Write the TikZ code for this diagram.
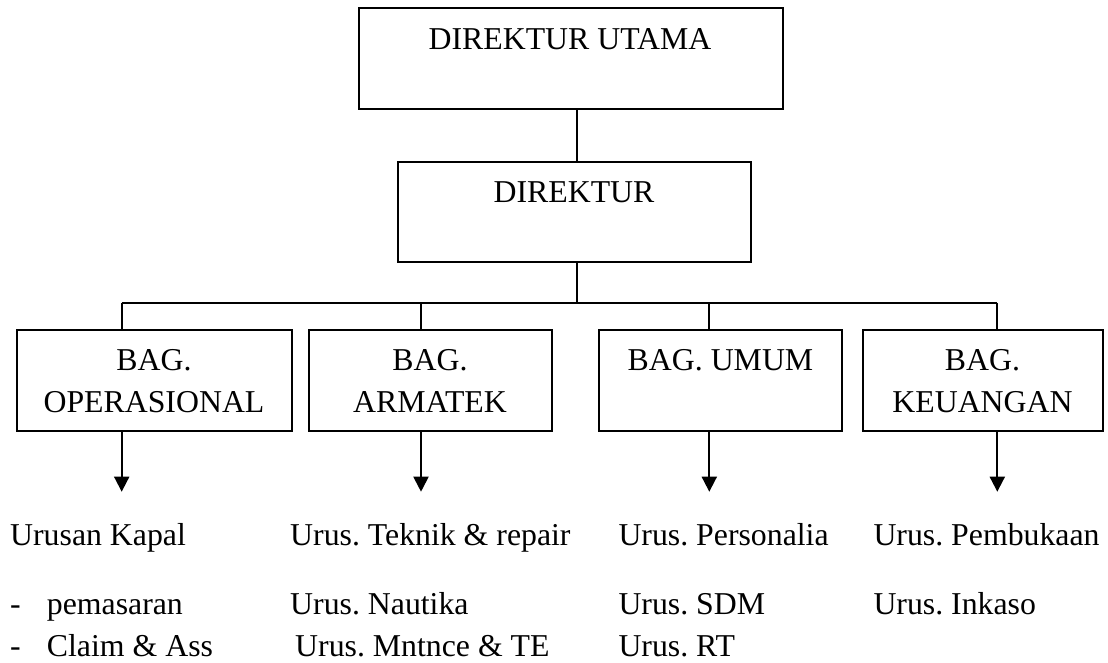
\documentclass[tikz,border=0pt]{standalone}
\usepackage{fontspec}
\setmainfont{Liberation Serif}
\usetikzlibrary{arrows.meta}
\frenchspacing
\begin{document}
\begin{tikzpicture}[x=1pt,y=-1pt,
  box/.style={draw,line width=1.9pt,inner sep=0pt},
  lbl/.style={inner sep=0pt,anchor=base,font=\fontsize{31.8}{36}\selectfont},
  item/.style={inner sep=0pt,anchor=base west,font=\fontsize{31.8}{36}\selectfont},
  conn/.style={line width=1.9pt},
  arr/.style={line width=1.9pt,-{Triangle[width=15pt,length=15pt]}}]
\useasboundingbox (0,0) rectangle (1108,662);
% boxes
\node[box,minimum width=424pt,minimum height=101pt] (top) at (571,58.5) {};
\node[box,minimum width=353pt,minimum height=100pt] (dir) at (574.5,212) {};
\node[box,minimum width=275pt,minimum height=100.4pt] (b1) at (154.2,380.5) {};
\node[box,minimum width=242.4pt,minimum height=100.4pt] (b2) at (430.5,380.5) {};
\node[box,minimum width=243pt,minimum height=100.4pt] (b3) at (720.8,380.5) {};
\node[box,minimum width=240pt,minimum height=100.4pt] (b4) at (982.7,380.5) {};
% box texts
\node[lbl] (tTop) at (570,49) {DIREKTUR UTAMA};
\node[lbl] (tDir) at (574,202) {DIREKTUR};
\node[lbl] (t1a) at (154,370) {BAG.};
\node[lbl] (t1b) at (154,412.7) {OPERASIONAL};
\node[lbl] (t2a) at (430,370) {BAG.};
\node[lbl] (t2b) at (430,412.7) {ARMATEK};
\node[lbl] (t3a) at (720.5,370) {BAG. UMUM};
\node[lbl] (t4a) at (982.5,370) {BAG.};
\node[lbl] (t4b) at (982.5,412.7) {KEUANGAN};
% connectors
\coordinate (bar0) at (576.7,302.7);
\coordinate (bar1) at (121.7,302.7);
\coordinate (bar2) at (421,302.7);
\coordinate (bar3) at (709.3,302.7);
\coordinate (bar4) at (997.3,302.7);
\draw[conn] (top.south -| bar0) -- (dir.north -| bar0);
\draw[conn] (dir.south -| bar0) -- (bar0);
\draw[conn] (bar1) -- (bar4);
\draw[conn] (bar1) -- (b1.north -| bar1);
\draw[conn] (bar2) -- (b2.north -| bar2);
\draw[conn] (bar3) -- (b3.north -| bar3);
\draw[conn] (bar4) -- (b4.north -| bar4);
% arrows
\coordinate (a1) at (121.7,491.7);
\coordinate (a2) at (421,491.7);
\coordinate (a3) at (709.3,491.7);
\coordinate (a4) at (997.3,491.7);
\draw[arr] (b1.south -| a1) -- (a1);
\draw[arr] (b2.south -| a2) -- (a2);
\draw[arr] (b3.south -| a3) -- (a3);
\draw[arr] (b4.south -| a4) -- (a4);
% items
\node[item] (i11) at (10,545.5) {Urusan Kapal};
\node[item] (i12) at (290,545.5) {Urus. Teknik \& repair};
\node[item] (i13) at (618.3,545.5) {Urus. Personalia};
\node[item] (i14) at (873.3,545.5) {Urus. Pembukaan};
\node[item] (d21) at (10,614) {-};
\node[item] (i21) at (46.7,614) {pemasaran};
\node[item] (i22) at (290,614) {Urus. Nautika};
\node[item] (i23) at (618.3,614) {Urus. SDM};
\node[item] (i24) at (873.3,614) {Urus. Inkaso};
\node[item] (d31) at (10,656) {-};
\node[item] (i31) at (46.7,656) {Claim \& Ass};
\node[item] (i32) at (295,656) {Urus. Mntnce \& TE};
\node[item] (i33) at (618.3,656) {Urus. RT};
\end{tikzpicture}
\end{document}
